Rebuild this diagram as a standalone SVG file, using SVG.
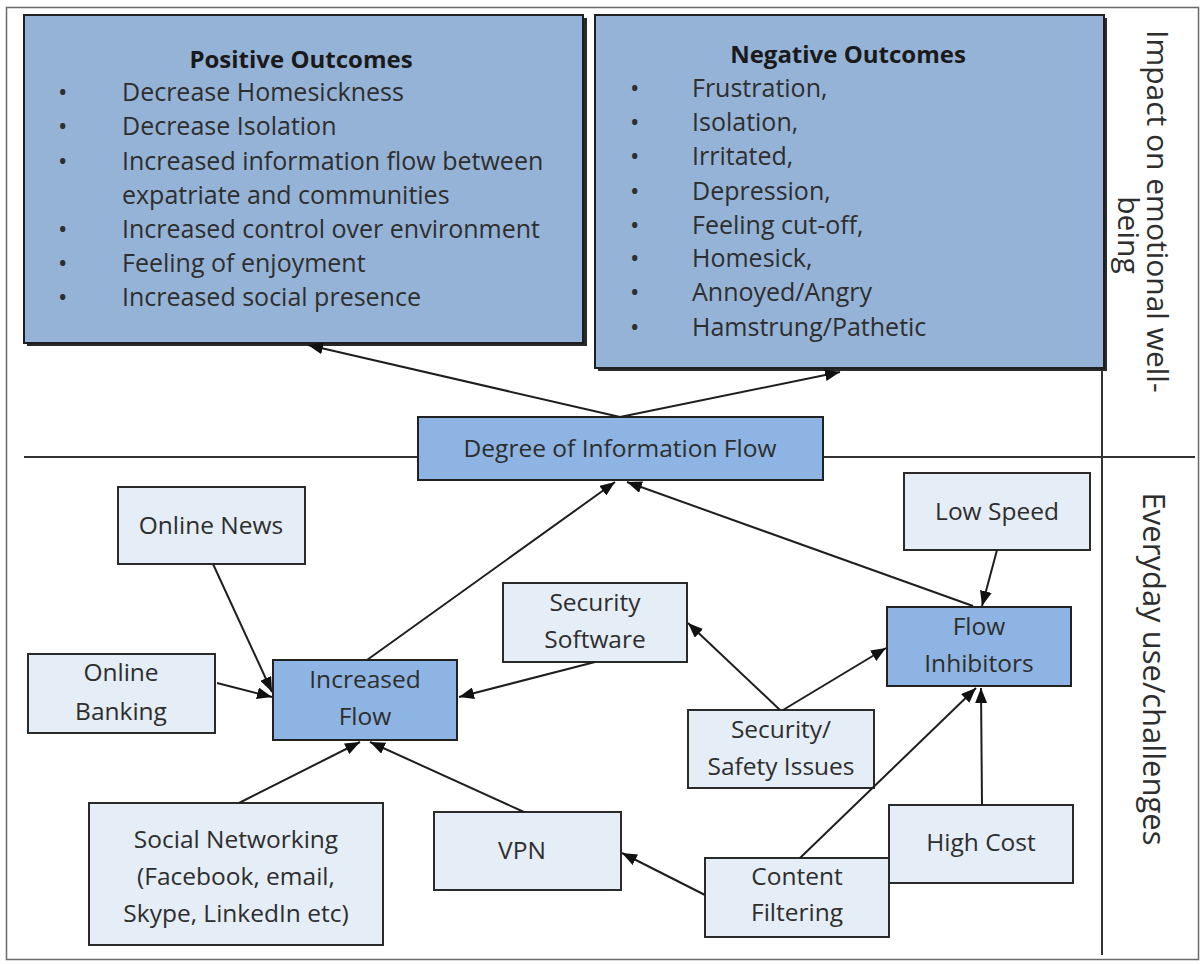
<svg xmlns="http://www.w3.org/2000/svg" width="1204" height="964" viewBox="0 0 1204 964">
<style>
.big{fill:#95B3D7;stroke:#1f1f1f;stroke-width:2}
.shadow{fill:#2a2a2a}
.mid{fill:#8DB4E2;stroke:#222;stroke-width:2}
.lite{fill:#E5EDF7;stroke:#2a2a2a;stroke-width:2}
.t{font-family:"Open Sans","Liberation Sans",sans-serif;font-size:24.5px;fill:#2e2e2e}
.b{font-family:"Open Sans","Liberation Sans",sans-serif;font-size:25px;fill:#2e2e2e}
.c{text-anchor:middle}
.title{font-family:"Open Sans","Liberation Sans",sans-serif;font-size:24px;font-weight:bold;fill:#1a1a1a;text-anchor:middle}
.side{font-family:"Open Sans","Liberation Sans",sans-serif;font-size:30px;fill:#2e2e2e}
.side2{font-family:"Open Sans","Liberation Sans",sans-serif;font-size:31px;fill:#2e2e2e}
.conn line{stroke:#1e1e1e;stroke-width:2;marker-end:url(#ah)}
.rule{stroke:#333;stroke-width:2}
</style>
<defs>
<marker id="ah" markerUnits="userSpaceOnUse" markerWidth="16" markerHeight="12" refX="15" refY="6" orient="auto">
<path d="M0,0 L15,6 L0,12 z" fill="#111"/>
</marker>
</defs>
<rect x="6.5" y="7.5" width="1192" height="952" fill="#fff" stroke="#6a6a6a" stroke-width="1.5"/>
<line class="rule" x1="24" y1="457" x2="1195" y2="457"/>
<line class="rule" x1="1102" y1="368" x2="1102" y2="955"/>
<g id="positive">
<rect class="shadow" x="27" y="18" width="560" height="328"/>
<rect class="big" x="24" y="15" width="559" height="328"/>
<text class="title" x="301" y="68">Positive Outcomes</text>
<g class="b">
<text x="58" y="101">•</text><text x="122" y="101">Decrease Homesickness</text>
<text x="58" y="135">•</text><text x="122" y="135">Decrease Isolation</text>
<text x="58" y="170">•</text><text x="122" y="170">Increased information flow between</text>
<text x="122" y="204">expatriate and communities</text>
<text x="58" y="238">•</text><text x="122" y="238">Increased control over environment</text>
<text x="58" y="272">•</text><text x="122" y="272">Feeling of enjoyment</text>
<text x="58" y="306">•</text><text x="122" y="306">Increased social presence</text>
</g>
</g>
<g id="negative">
<rect class="shadow" x="598" y="18" width="509" height="353"/>
<rect class="big" x="595" y="15" width="509" height="353"/>
<text class="title" x="848" y="63">Negative Outcomes</text>
<g class="b">
<text x="630" y="97">•</text><text x="692" y="97">Frustration,</text>
<text x="630" y="131">•</text><text x="692" y="131">Isolation,</text>
<text x="630" y="165">•</text><text x="692" y="165">Irritated,</text>
<text x="630" y="200">•</text><text x="692" y="200">Depression,</text>
<text x="630" y="234">•</text><text x="692" y="234">Feeling cut-off,</text>
<text x="630" y="267">•</text><text x="692" y="267">Homesick,</text>
<text x="630" y="301">•</text><text x="692" y="301">Annoyed/Angry</text>
<text x="630" y="336">•</text><text x="692" y="336">Hamstrung/Pathetic</text>
</g>
</g>
<g id="side-labels">
<text class="side" transform="translate(1147,30) rotate(90)">Impact on emotional well-</text>
<text class="side c" transform="translate(1118,235) rotate(90)">being</text>
<text class="side2 c" transform="translate(1143,669) rotate(90)">Everyday use/challenges</text>
</g>
<g id="degree">
<rect class="mid" x="418" y="417" width="405" height="63"/>
<text class="t c" x="620" y="457">Degree of Information Flow</text>
</g>
<g id="online-news">
<rect class="lite" x="118" y="487" width="187" height="77"/>
<text class="t c" x="211" y="534">Online News</text>
</g>
<g id="online-banking">
<rect class="lite" x="28" y="654" width="187" height="79"/>
<text class="t c" x="121" y="681">Online</text>
<text class="t c" x="121" y="720">Banking</text>
</g>
<g id="increased-flow">
<rect class="mid" x="273" y="660" width="184" height="80"/>
<text class="t c" x="365" y="688">Increased</text>
<text class="t c" x="365" y="725">Flow</text>
</g>
<g id="security-software">
<rect class="lite" x="503" y="583" width="184" height="79"/>
<text class="t c" x="595" y="611">Security</text>
<text class="t c" x="595" y="648">Software</text>
</g>
<g id="low-speed">
<rect class="lite" x="904" y="473" width="186" height="77"/>
<text class="t c" x="997" y="520">Low Speed</text>
</g>
<g id="flow-inhibitors">
<rect class="mid" x="887" y="607" width="184" height="79"/>
<text class="t c" x="979" y="635">Flow</text>
<text class="t c" x="979" y="672">Inhibitors</text>
</g>
<g id="security-safety">
<rect class="lite" x="688" y="710" width="186" height="78"/>
<text class="t c" x="781" y="738">Security/</text>
<text class="t c" x="781" y="775">Safety Issues</text>
</g>
<g id="high-cost">
<rect class="lite" x="889" y="805" width="184" height="78"/>
<text class="t c" x="981" y="851">High Cost</text>
</g>
<g id="content-filtering">
<rect class="lite" x="705" y="858" width="184" height="79"/>
<text class="t c" x="797" y="885">Content</text>
<text class="t c" x="797" y="921">Filtering</text>
</g>
<g id="vpn">
<rect class="lite" x="434" y="812" width="187" height="78"/>
<text class="t c" x="522" y="859">VPN</text>
</g>
<g id="social-networking">
<rect class="lite" x="89" y="803" width="294" height="142"/>
<text class="t c" x="236" y="848">Social Networking</text>
<text class="t c" x="236" y="885">(Facebook, email,</text>
<text class="t c" x="236" y="922">Skype, LinkedIn etc)</text>
</g>
<g id="connectors" class="conn">
<line x1="620" y1="417" x2="308" y2="345"/>
<line x1="620" y1="417" x2="840" y2="372"/>
<line x1="367" y1="660" x2="615" y2="482"/>
<line x1="973" y1="606" x2="627" y2="482"/>
<line x1="213" y1="564" x2="272" y2="692"/>
<line x1="217" y1="683" x2="272" y2="697"/>
<line x1="595" y1="662" x2="459" y2="697"/>
<line x1="239" y1="803" x2="360" y2="742"/>
<line x1="524" y1="812" x2="370" y2="742"/>
<line x1="997" y1="550" x2="982" y2="606"/>
<line x1="780" y1="710" x2="688" y2="623"/>
<line x1="783" y1="710" x2="886" y2="648"/>
<line x1="705" y1="895" x2="622" y2="853"/>
<line x1="800" y1="858" x2="976" y2="688"/>
<line x1="982" y1="805" x2="981" y2="688"/>
</g>
</svg>
